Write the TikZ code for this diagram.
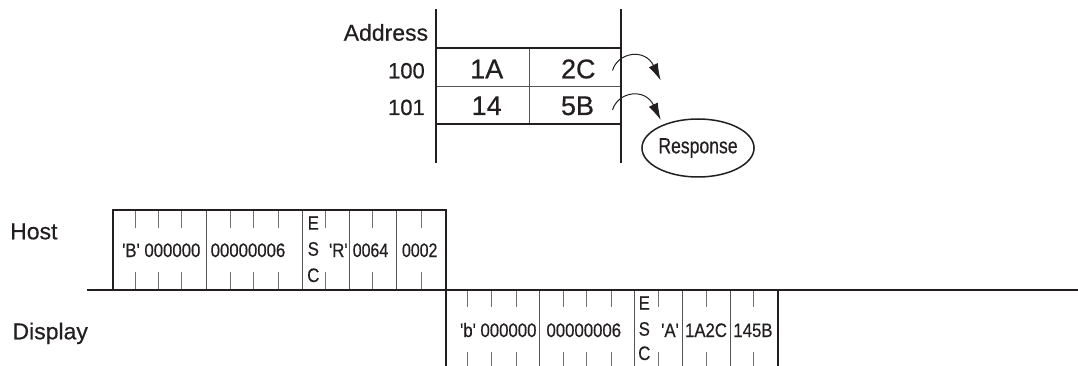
\documentclass[tikz,border=0pt]{standalone}
\usepackage{fontspec}
\setmainfont[FakeBold=0.5]{Liberation Sans}
\newfontfamily\condfont[FakeStretch=0.86,FakeBold=0.5]{Liberation Sans}
\newfontfamily\respfont[FakeStretch=0.8,FakeBold=0.5]{Liberation Sans}
\usetikzlibrary{arrows.meta,shapes.geometric}
\definecolor{ink}{HTML}{231F20}
\definecolor{thinline}{HTML}{555555}
\definecolor{tickline}{HTML}{707070}
\tikzset{
  frame/.style={line width=2pt,draw=ink,line cap=rect},
  divline/.style={line width=1pt,draw=thinline},
  tickmark/.style={line width=1pt,draw=tickline},
  lbl/.style={inner sep=0pt,anchor=base,text=ink},
  fld/.style={lbl,font={\condfont\fontsize{19.5pt}{20pt}\selectfont}},
  side/.style={lbl,font={\fontsize{23pt}{24pt}\selectfont}},
  addr/.style={lbl,anchor=base east,font={\fontsize{22pt}{24pt}\selectfont}},
  cell/.style={lbl,font={\fontsize{27pt}{28pt}\selectfont}},
  curvearrow/.style={line width=1pt,draw=ink,-{Latex[length=17pt,width=10pt]}},
  resp/.style={ellipse,draw=ink,line width=1.5pt,inner sep=0pt,minimum width=90pt,minimum height=58pt,text=ink,font={\respfont\fontsize{22pt}{24pt}\selectfont}}
}
\begin{document}
\begin{tikzpicture}[x=1pt,y=-1pt]
\useasboundingbox (0,0) rectangle (1078,366);

% ---------- memory table ----------
\draw[divline] (529,48.3) -- (529,124);
\draw[divline] (435.7,86.7) -- (621,86.7);
\draw[frame] (435.7,10) -- (435.7,161.7);
\draw[frame] (621,10) -- (621,161.7);
\draw[frame] (435.7,48.3) -- (621,48.3);
\draw[frame] (435.7,124) -- (621,124);

\node[addr,font={\fontsize{23pt}{24pt}\selectfont}] (address) at (428.3,40.7) {Address};
\node[addr] (a100) at (425,78.3) {100};
\node[addr] (a101) at (425,115) {101};
\node[cell] (c1A) at (486.7,78.3) {1A};
\node[cell] (c2C) at (578.3,78.3) {2C};
\node[cell] (c14) at (486.7,115) {14};
\node[cell] (c5B) at (577.5,115) {5B};

\coordinate (a1s) at (612.5,70.5);
\coordinate (a1e) at (660.7,80.5);
\coordinate (a2s) at (612.5,110);
\coordinate (a2e) at (660.7,120);
\draw[curvearrow] (a1s) .. controls (618,52) and (645,48) .. (a1e);
\draw[curvearrow] (a2s) .. controls (618,91.5) and (645,87.5) .. (a2e);

\node[resp] (response) at (698,148) {Response};

% ---------- host frame ----------
\foreach \x in {135,158.3,181.7,230,253.3,278.3,325.3,372.7,421} {
  \draw[tickmark] (\x,210) -- (\x,228.3);
  \draw[tickmark] (\x,271.7) -- (\x,290);
}
\foreach \x in {206,302,349.3,396.7} {
  \draw[divline] (\x,210) -- (\x,290);
}
% ---------- display frame ----------
\foreach \x in {467.3,491.7,516,563.3,586.7,611,658.3,706,753.3} {
  \draw[tickmark] (\x,290) -- (\x,306.7);
  \draw[tickmark] (\x,351.7) -- (\x,366);
}
\foreach \x in {539.3,634.3,682.7,730} {
  \draw[divline] (\x,290) -- (\x,366);
}

\draw[frame] (112.7,290) -- (112.7,210) -- (446,210) -- (446,366);
\draw[frame] (87.5,290) -- (1078,290);
\draw[frame] (777.7,290) -- (777.7,366);

\node[side,anchor=base west] (host) at (10,239.3) {Host};
\node[side,anchor=base west] (display) at (12.3,339.3) {Display};

% host texts
\node[fld] (hB) at (161.3,257) {'B' 000000};
\node[fld] (hlen) at (248,257) {00000006};
\node[fld] (hE) at (313.3,229.7) {E};
\node[fld] (hS) at (313.3,255.7) {S};
\node[fld] (hC) at (313.3,282) {C};
\node[fld] (hR) at (338.3,257) {'R'};
\node[fld,xscale=0.95] (haddr) at (370.5,257) {0064};
\node[fld,xscale=0.95] (hcnt) at (419.7,257) {0002};

% display texts
\node[fld] (db) at (498.3,337) {'b' 000000};
\node[fld] (dlen) at (583.8,337) {00000006};
\node[fld] (dE) at (644.3,309.7) {E};
\node[fld] (dS) at (644.3,335.7) {S};
\node[fld] (dC) at (644.3,360) {C};
\node[fld] (dA) at (670,337) {'A'};
\node[fld] (dd1) at (706,337) {1A2C};
\node[fld] (dd2) at (753,337) {145B};
\end{tikzpicture}
\end{document}
